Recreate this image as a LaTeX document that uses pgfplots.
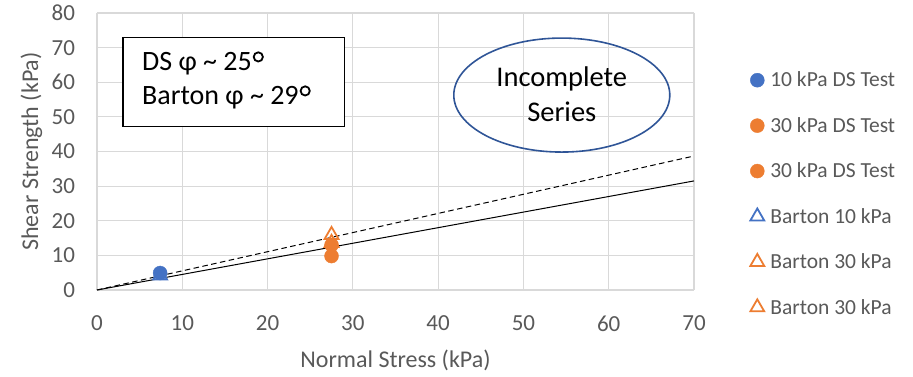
\documentclass[border=0pt]{standalone}
\usepackage{pgfplots}
\pgfplotsset{compat=1.18}
\usepackage{fontspec}
\setmainfont{Carlito}
\definecolor{xblue}{HTML}{4472C4}
\definecolor{xorange}{HTML}{ED7D31}
\definecolor{xgrid}{HTML}{D9D9D9}
\definecolor{xtext}{HTML}{595959}
\definecolor{xell}{HTML}{2F5597}
\newsavebox\dgbox
\savebox\dgbox{\tikz[baseline=0pt]{\path (0,0) (12pt,0); \draw[line width=1.8pt] (6.5pt,13.5pt) circle (4.6pt);}}
\newcommand\dg{\usebox\dgbox}
\begin{document}
\begin{tikzpicture}
\path (-97pt,-87pt) rectangle (816pt,290pt);
\begin{axis}[
  at={(0,0)}, anchor=south west,
  scale only axis,
  width=597pt, height=277pt,
  xmin=0, xmax=70, ymin=0, ymax=80,
  xtick={0,10,...,70}, ytick={0,10,...,80},
  grid=major,
  major grid style={xgrid, line width=1.1pt},
  axis line style={draw=none},
  tick style={draw=none},
  /pgf/number format/assume math mode=true,
  ticklabel style={font=\fontsize{23}{26}\selectfont, text=xtext},
  yticklabel style={anchor=east, xshift=-18.5pt},
  xticklabel style={anchor=north, yshift=-22.5pt},
  xlabel={Normal Stress (kPa)},
  ylabel={Shear Strength (kPa)},
  label style={font=\fontsize{24}{28}\selectfont, text=xtext},
  xlabel style={at={(axis description cs:0.5,-0.278)}, anchor=base},
  ylabel style={at={(axis description cs:-0.0988,0.5)}, anchor=base},
  legend style={at={(1.094,0.795)}, anchor=north west, draw=none,
    font=\fontsize{21.5}{24}\selectfont, text=xtext, row sep=25pt,
    inner sep=0pt, /tikz/every odd column/.append style={column sep=4pt}},
  legend cell align=left,
  clip=false,
]
\addplot[black, line width=1pt, forget plot] coordinates {(0,0) (70,31.5)};
\addplot[black, line width=1pt, dash pattern=on 5.5pt off 3.5pt, forget plot] coordinates {(0,0) (70,38.7)};
\addplot[only marks, mark=*, mark size=7pt, xblue, mark options={fill=xblue, draw=xblue}] coordinates {(7.4,4.9)};
\addlegendentry{10 kPa DS Test}
\addplot[only marks, mark=*, mark size=7pt, xorange, mark options={fill=xorange, draw=xorange}] coordinates {(27.5,13.0)};
\addlegendentry{30 kPa DS Test}
\addplot[only marks, mark=*, mark size=7pt, xorange, mark options={fill=xorange, draw=xorange}] coordinates {(27.5,9.8)};
\addlegendentry{30 kPa DS Test}
\addplot[only marks, mark=triangle, mark size=8pt, xblue, mark options={draw=xblue, line width=1.8pt}] coordinates {(7.4,4.2)};
\addlegendentry{Barton 10 kPa}
\addplot[only marks, mark=triangle, mark size=8pt, xorange, mark options={draw=xorange, line width=1.8pt}] coordinates {(27.5,15.9)};
\addlegendentry{Barton 30 kPa}
\addplot[only marks, mark=triangle, mark size=8pt, xorange, mark options={draw=xorange, line width=1.8pt}] coordinates {(27.5,13.6)};
\addlegendentry{Barton 30 kPa}
\draw[black, line width=1.1pt, fill=white] (axis cs:3.05,72.8) rectangle (axis cs:29.07,47.1);
\node[anchor=west, align=left, font=\fontsize{28}{34}\selectfont] at (axis cs:4.88,60.6) {DS φ \~{} 25\dg\\Barton φ \~{} 29\dg};
\draw[xell, line width=1.6pt] (axis cs:54.5,56.3) ellipse [x radius=108pt, y radius=57pt];
\node[align=center, font=\fontsize{28.5}{35}\selectfont] at (axis cs:54.5,56.6) {Incomplete\\Series};
\end{axis}
\end{tikzpicture}
\end{document}
